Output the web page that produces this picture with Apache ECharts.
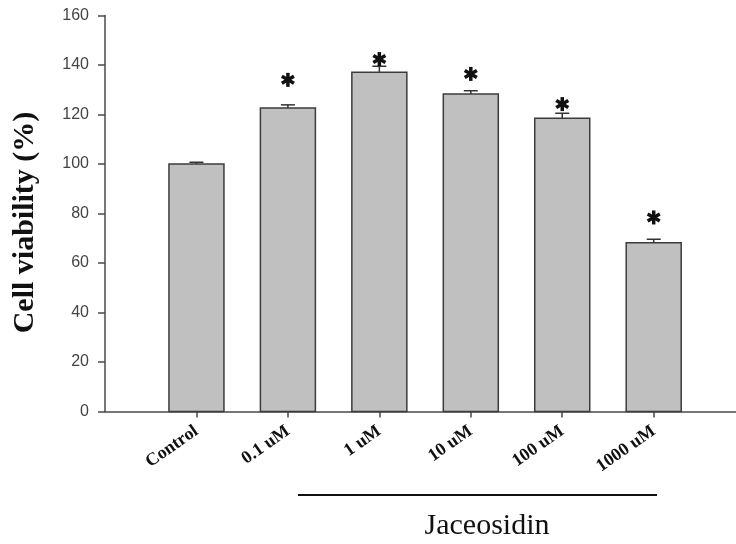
<!DOCTYPE html>
<html>
<head>
<meta charset="utf-8">
<script src="https://cdn.jsdelivr.net/npm/echarts@6/dist/echarts.min.js"></script>
<style>
	html, body { margin: 0; padding: 0; background: #fff; }
	#chart { width: 736px; height: 544px; }
</style>
</head>
<body>
<div id="chart"></div>
<script>
// data
var categories = ['Control', '0.1 uM', '1 uM', '10 uM', '100 uM', '1000 uM'];
var viability = [100, 122.6, 137.1, 128.3, 118.5, 68.2];
var errors = [0.7, 1.3, 2.4, 1.3, 2.0, 1.4];
var starLevel = [null, 134.0, 142.4, 136.4, 124.2, 78.4];
var yTicks = [0, 20, 40, 60, 80, 100, 120, 140, 160];

var serif = "'Liberation Serif', 'Times New Roman', serif";
var sans = "'Liberation Sans', Arial, sans-serif";
var axisColor = '#4a4a4a';

var positions = categories.map(function(c, i){ return i; });

var barData = viability.map(function(v, i){
	return [i, v, errors[i]];
});
var starData = [];
starLevel.forEach(function(s, i){
	if (s !== null) starData.push([i, s]);
});

var myChart = echarts.init(document.getElementById('chart'));
var option = {
	animation : false,
	backgroundColor : '#fff',
	grid : {
		left : 105,
		right : 0,
		top : 15.5,
		bottom : 132.5,
		containLabel : false,
		outerBoundsMode : 'none'
	},
	xAxis : {
		type : 'value',
		min : -1,
		max : 5.9,
		interval : 1,
		splitLine : { show : false },
		axisLine : {
			show : true,
			onZero : false,
			lineStyle : { color : axisColor, width : 1.5 }
		},
		axisTick : {
			show : true,
			customValues : positions,
			length : 6,
			lineStyle : { color : axisColor, width : 1.5 }
		},
		axisLabel : {
			customValues : positions,
			rotate : 35,
			margin : 18,
			color : '#111',
			fontFamily : serif,
			fontWeight : 'bold',
			fontSize : 18,
			formatter : function(v){
				return categories[Math.round(v)] || '';
			}
		}
	},
	yAxis : {
		type : 'value',
		min : yTicks[0],
		max : yTicks[yTicks.length - 1],
		interval : 20,
		name : 'Cell viability (%)',
		nameLocation : 'middle',
		nameGap : 65,
		nameRotate : 90,
		nameTextStyle : {
			fontFamily : serif,
			fontWeight : 'bold',
			fontSize : 30,
			color : '#111',
			padding : [0, 18, 0, 0]
		},
		splitLine : { show : false },
		axisLine : {
			show : true,
			onZero : false,
			lineStyle : { color : axisColor, width : 1.5 }
		},
		axisTick : {
			show : true,
			length : 7,
			lineStyle : { color : axisColor, width : 1.5 }
		},
		axisLabel : {
			margin : 16,
			color : '#444',
			fontFamily : sans,
			fontSize : 16
		}
	},
	series : [
		{
			// bars with error bars
			type : 'custom',
			data : barData,
			z : 3,
			renderItem : function(params, api){
				var x = api.value(0), v = api.value(1), e = api.value(2);
				var base = api.coord([x, 0]);
				var top = api.coord([x, v]);
				var err = api.coord([x, v + e]);
				var w = 55;
				var ln = { stroke : '#333', lineWidth : 1.5 };
				return {
					type : 'group',
					children : [
						{
							type : 'rect',
							shape : { x : top[0] - w / 2, y : top[1], width : w, height : base[1] - top[1] },
							style : { fill : '#c0c0c0', stroke : '#3c3c3c', lineWidth : 1.5 }
						},
						{ type : 'line', shape : { x1 : top[0], y1 : top[1], x2 : err[0], y2 : err[1] }, style : ln },
						{ type : 'line', shape : { x1 : err[0] - 7, y1 : err[1], x2 : err[0] + 7, y2 : err[1] }, style : ln }
					]
				};
			}
		},
		{
			type : 'custom',
			data : starData,
			z : 6,
			renderItem : function(params, api){
				var c = api.coord([api.value(0), api.value(1)]);
				var r = 7;
				var style = { stroke : '#111', lineWidth : 3.5 };
				var kids = [0, 60, 120].map(function(deg){
					var a = (deg + 90) * Math.PI / 180;
					return {
						type : 'line',
						shape : {
							x1 : c[0] - r * Math.cos(a), y1 : c[1] - r * Math.sin(a),
							x2 : c[0] + r * Math.cos(a), y2 : c[1] + r * Math.sin(a)
						},
						style : style
					};
				});
				return { type : 'group', children : kids };
			}
		}
	],
	graphic : [
		{
			type : 'line',
			shape : { x1 : 298, y1 : 495, x2 : 657, y2 : 495 },
			style : { stroke : '#111', lineWidth : 2 }
		},
		{
			type : 'text',
			x : 487,
			y : 526,
			style : {
				text : 'Jaceosidin',
				fontFamily : serif,
				fontSize : 30,
				fill : '#111',
				align : 'center',
				verticalAlign : 'middle'
			}
		}
	]
};
myChart.setOption(option);
</script>
</body>
</html>
